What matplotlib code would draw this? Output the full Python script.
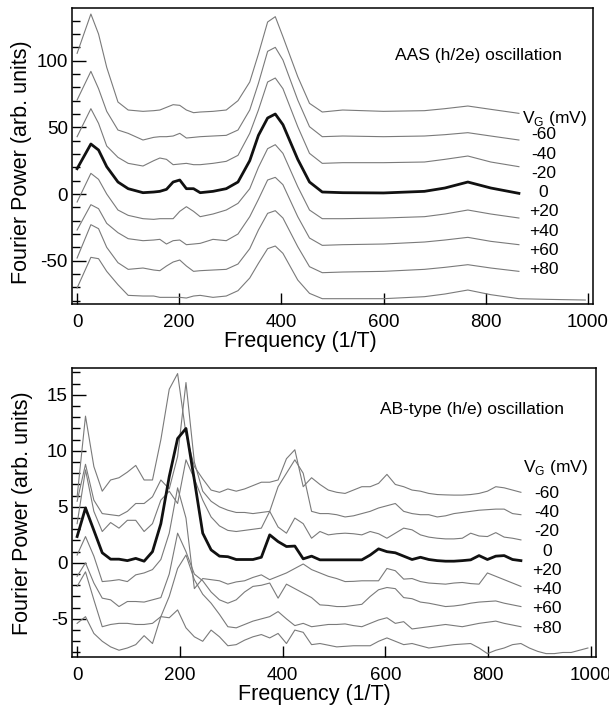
import matplotlib
matplotlib.use("Agg")
import matplotlib.pyplot as plt
from matplotlib.ticker import MultipleLocator

plt.rcParams["font.family"] = ["Liberation Sans", "DejaVu Sans"]
plt.rcParams["axes.unicode_minus"] = False
plt.rcParams["mathtext.fontset"] = "custom"
plt.rcParams["mathtext.rm"] = "Liberation Sans"

VG_LABELS = ["-60", "-40", "-20", "0", "+20", "+40", "+60", "+80"]

# Top panel: AAS (h/2e) oscillation
AAS_FREQ = [0, 27, 42, 58, 80, 100, 129, 150, 162, 175, 188, 201, 214, 228,
            241, 266, 292, 315, 338, 355, 373, 388, 403, 432, 455, 480, 520,
            600, 680, 720, 765, 810, 865]
AAS_M60 = [105.5, 135, 120, 95, 69, 63, 62, 62.5, 63, 65, 67, 66.5, 63, 61,
           61.5, 62, 63, 70, 84, 105, 129, 133, 118, 88, 68, 61.5, 63, 62,
           62.5, 64, 66, 63.5, 60.5]
AAS_M40 = [70.5, 92, 79, 62, 48, 45.5, 40.5, 42.5, 43, 43, 43.5, 45.5, 42,
           42.5, 43, 43.5, 44, 48, 63, 83, 107, 110, 100.5, 70.5, 50.5, 43,
           43.5, 43, 43.5, 44.5, 46, 43.5, 40.5]
AAS_M20 = [43, 64, 53, 36, 27.5, 23, 21, 25, 27, 26, 22, 22.5, 23, 22, 22,
           23, 24.5, 29, 45.5, 63, 84, 87, 79, 50.5, 30.5, 23, 23.5, 23.5,
           24, 26, 28.5, 24, 20.5]
AAS_0 = [19, 37.5, 33, 20.5, 9, 4, 1, 1.5, 2, 3.5, 9, 10.5, 4, 4, 1, 2, 4,
         9, 25, 44, 57, 60, 52, 26, 9, 1.5, 1, 0.8, 2, 4.5, 9, 4.5, 0.5]
AAS_P20 = [-6, 15.5, 11, 0, -12, -16, -18.5, -19, -18.5, -18.5, -18.5, -13,
           -9.5, -13, -17, -15, -12, -7, 4, 20, 34, 37, 30.5, 5.5, -12,
           -18.5, -18.5, -18, -17, -15, -12, -15, -18]
AAS_P40 = [-27, -8, -11, -22, -29, -33.5, -35, -34.5, -34, -37.5, -35, -34.5,
           -38, -37.5, -37, -34, -35, -30, -17, -4, 10.5, 12.5, 7, -17, -33,
           -38.5, -38, -37.5, -36, -34.5, -32.5, -35.5, -38]
AAS_P60 = [-48, -23, -26, -40, -51.5, -56.5, -55.5, -57, -57.5, -54, -51,
           -49.5, -54, -58, -57.5, -57, -56.5, -52.5, -41, -27, -14.5, -12.5,
           -18, -39.5, -54.5, -59, -58.5, -58, -56.5, -55, -53, -55.5, -58]
AAS_P80 = [-70.5, -47.5, -48.5, -58, -68, -76, -76.5, -76.5, -77.5, -77.5,
           -77.5, -77.5, -78, -76.5, -76, -77.5, -76.5, -72.5, -63, -52, -41,
           -39, -44.5, -64.5, -74.5, -78.5, -78.5, -78.5, -77, -75, -72,
           -75.5, -78.5, -79, -79.5]
AAS_P80_FREQ = AAS_FREQ + [920, 995]

# Bottom panel: AB-type (h/e) oscillation
AB_FREQ = [0, 16.3, 32.6, 48.9, 65.2, 81.5, 97.8, 114.1, 130.4, 146.7, 163.0,
           179.3, 195.6, 211.9, 228.2, 244.5, 260.8, 277.1, 293.4, 309.7,
           326.0, 342.3, 358.6, 374.9, 391.2, 407.5, 423.8, 440.1, 456.4,
           472.7, 489.0, 505.3, 521.6, 537.9, 554.2, 570.5, 586.8, 603.1,
           619.4, 635.7, 652.0, 668.3, 684.6, 700.9, 717.2, 733.5, 749.8,
           766.1, 782.4, 798.7, 815.0, 831.3, 847.6, 863.9]
AB_P80_FREQ = AB_FREQ + [880.2, 896.5, 912.8, 929.1, 945.4, 961.7, 978.0,
                         994.3]
AB_M60 = [5.9, 13.1, 8.6, 6.4, 7.4, 7.6, 8.1, 8.7, 7.4, 7.4, 11.0, 15.5, 16.9,
          11.5, 8.6, 7.5, 6.5, 6.3, 6.6, 6.4, 6.6, 6.9, 7.2, 7.2, 7.4, 9.3,
          10.1, 6.8, 7.6, 7.0, 6.5, 6.3, 6.2, 6.5, 6.8, 6.8, 7.1, 7.9, 7.0,
          6.8, 6.5, 6.4, 6.2, 6.1, 6.07, 6.05, 6.05, 6.1, 6.2, 6.4, 6.8, 6.7,
          6.5, 6.3]
AB_M40 = [5.5, 8.8, 5.6, 4.4, 4.3, 4.2, 4.6, 5.3, 5.3, 5.9, 7.4, 6.6, 9.5,
          16.1, 9.0, 6.4, 5.5, 5.0, 4.7, 4.5, 4.5, 4.4, 4.5, 4.6, 6.8, 8.0,
          9.2, 8.0, 4.6, 4.4, 4.4, 4.3, 4.1, 4.2, 4.4, 4.6, 4.9, 5.1, 5.3,
          4.6, 4.4, 4.3, 4.3, 4.1, 4.2, 4.4, 4.5, 4.6, 4.7, 4.75, 4.8, 4.8,
          4.4, 4.3]
AB_M20 = [3.5, 8.3, 4.6, 2.8, 3.6, 3.1, 3.8, 3.8, 2.8, 3.5, 5.6, 6.4, 5.3,
          9.2, 7.5, 5.6, 4.1, 3.3, 2.9, 2.8, 2.9, 3.0, 3.1, 4.6, 3.2, 2.65,
          4.0, 3.5, 2.2, 2.8, 2.5, 2.6, 2.65, 2.6, 2.5, 2.8, 2.6, 2.2, 2.65,
          3.1, 2.95, 2.5, 2.3, 2.2, 2.14, 2.14, 2.2, 2.65, 2.4, 2.35, 2.7,
          2.3, 2.2, 2.05]
AB_0 = [2.35, 4.9, 2.9, 0.9, 0.33, 0.33, 0.2, 0.4, 0.15, 1.0, 3.5, 7.7, 11.1,
        12.0, 7.4, 2.65, 1.16, 0.6, 0.55, 0.3, 0.3, 0.3, 0.5, 2.5, 1.9, 1.46,
        1.5, 0.36, 0.6, 0.27, 0.27, 0.27, 0.27, 0.27, 0.27, 0.7, 1.25, 1.0,
        0.9, 0.6, 0.3, 0.5, 0.3, 0.2, 0.15, 0.15, 0.2, 0.27, 0.65, 0.3, 0.6,
        0.65, 0.3, 0.2]
AB_P20 = [0.7, 2.35, 0.6, -1.67, -1.6, -1.5, -1.67, -1.07, -0.9, -0.6, 0.3,
          2.65, 6.7, 4.0, -2.3, -1.4, -1.5, -1.6, -1.9, -1.7, -1.6, -1.3,
          -1.07, -1.5, -1.2, -0.9, -0.5, -0.1, -0.6, -0.9, -1.2, -1.4, -1.67,
          -1.65, -1.6, -1.6, -1.6, -0.5, -0.7, -1.45, -1.4, -1.67, -1.8,
          -1.85, -1.9, -1.8, -1.75, -1.85, -1.9, -0.9, -1.2, -1.5, -1.8, -2.1]
AB_P40 = [-1.2, 0.0, -1.8, -3.15, -3.3, -3.9, -3.45, -3.45, -3.5, -3.3, -3.1,
          -1.0, 2.65, 1.0, -1.0, -1.6, -2.6, -3.3, -3.6, -3.3, -2.6, -2.1,
          -2.0, -1.8, -3.15, -1.9, -2.3, -2.7, -3.1, -3.75, -3.8, -3.9, -3.9,
          -3.8, -3.7, -3.0, -2.4, -2.2, -2.3, -3.1, -3.2, -3.5, -3.6, -3.75,
          -3.9, -3.85, -3.75, -3.6, -3.5, -3.45, -3.4, -3.6, -3.75, -3.9]
AB_P60 = [-2.1, -0.8, -3.3, -5.7, -5.5, -5.4, -5.4, -5.5, -5.5, -5.4, -4.8,
          -3.0, -0.5, 0.7, -1.5, -2.8, -3.6, -4.6, -5.7, -5.8, -5.5, -5.2,
          -5.0, -4.8, -4.35, -5.0, -5.6, -5.4, -5.7, -5.6, -5.5, -5.5, -5.45,
          -5.6, -5.7, -5.4, -5.1, -4.9, -5.4, -5.25, -5.9, -5.8, -5.7, -5.6,
          -5.5, -5.6, -5.7, -5.55, -5.4, -5.3, -5.2, -5.4, -5.55, -5.7]
AB_P80 = [-5.4, -4.8, -6.3, -7.0, -7.5, -7.8, -7.6, -7.3, -6.5, -7.2, -4.8,
          -4.9, -4.2, -5.8, -6.6, -7.0, -6.0, -6.6, -7.4, -7.3, -6.9, -6.6,
          -6.4, -6.7, -6.3, -7.2, -6.0, -6.2, -7.3, -7.2, -7.35, -7.5, -7.45,
          -7.4, -7.4, -7.4, -7.0, -6.7, -7.0, -7.3, -7.2, -7.4, -7.6, -7.5,
          -7.4, -7.3, -7.25, -7.2, -7.6, -8.1, -7.8, -7.6, -7.3, -7.2, -7.6,
          -7.9, -8.1, -8.1, -8.0, -8.0, -7.8, -7.6]

GRAY = "#7a7a7a"
FS_TICK = 13.5
FS_LABEL = 15.5


def _style_axes(ax, ylim, ymajor, yminor):
    ax.set_xlim(-10, 1010)
    ax.set_ylim(*ylim)
    ax.xaxis.set_major_locator(MultipleLocator(200))
    ax.yaxis.set_major_locator(MultipleLocator(ymajor))
    ax.yaxis.set_minor_locator(MultipleLocator(yminor))
    ax.tick_params(axis="y", which="major", direction="in", length=10,
                   width=1.0, labelsize=FS_TICK, pad=3)
    ax.tick_params(axis="y", which="minor", direction="in", length=5.5,
                   width=1.0)
    ax.tick_params(axis="x", which="major", direction="in", length=8,
                   width=1.0, labelsize=FS_TICK, pad=7)
    ax.tick_params(axis="x", which="minor", bottom=False)
    for spine in ax.spines.values():
        spine.set_linewidth(1.1)
    ax.set_xlabel("Frequency (1/T)", fontsize=FS_LABEL, va="top")
    ax.set_ylabel("Fourier Power (arb. units)", fontsize=FS_LABEL)


def _vg_labels(ax, x_vg, x_lab, y_vg, y0, dy):
    ax.text(x_vg, y_vg, r"V$_\mathregular{G}$ (mV)", transform=ax.transAxes,
            ha="left", va="center", fontsize=12.5)
    for i, lab in enumerate(VG_LABELS):
        ax.text(x_lab, y0 - i * dy, lab, transform=ax.transAxes,
                ha="center", va="center", fontsize=12.5)


fig = plt.figure(figsize=(6.09, 7.09), dpi=100)
ax1 = fig.add_axes([0.1182, 0.5712, 0.8555, 0.4175])
ax2 = fig.add_axes([0.1182, 0.0734, 0.8604, 0.4076])

# Top panel
top_curves = [AAS_M60, AAS_M40, AAS_M20, AAS_0, AAS_P20, AAS_P40, AAS_P60]
for vals, lab in zip(top_curves, VG_LABELS):
    bold = lab == "0"
    ax1.plot(AAS_FREQ, vals, color="#111111" if bold else GRAY,
             lw=2.0 if bold else 0.8, solid_joinstyle="round")
ax1.plot(AAS_P80_FREQ, AAS_P80, color=GRAY, lw=0.8)
_style_axes(ax1, (-82.5, 139.5), 50, 10)
ax1.text(0.62, 0.841, "AAS (h/2e) oscillation", transform=ax1.transAxes,
         ha="left", va="center", fontsize=12.5)
_vg_labels(ax1, 0.864, 0.905, 0.628, 0.571, 0.0649)
ax1.xaxis.set_label_coords(0.4376, -0.092)
ax1.yaxis.set_label_coords(-0.077, 0.48)

# Bottom panel
bot_curves = [AB_M60, AB_M40, AB_M20, AB_0, AB_P20, AB_P40, AB_P60]
for vals, lab in zip(bot_curves, VG_LABELS):
    bold = lab == "0"
    ax2.plot(AB_FREQ, vals, color="#111111" if bold else GRAY,
             lw=2.0 if bold else 0.8, solid_joinstyle="round")
ax2.plot(AB_P80_FREQ, AB_P80, color=GRAY, lw=0.8)
_style_axes(ax2, (-8.4, 17.4), 5, 1)
ax2.text(0.588, 0.855, "AB-type (h/e) oscillation", transform=ax2.transAxes,
         ha="left", va="center", fontsize=12.5)
_vg_labels(ax2, 0.861, 0.906, 0.654, 0.567, 0.0668)
ax2.xaxis.set_label_coords(0.4626, -0.095)
ax2.yaxis.set_label_coords(-0.0744, 0.497)

fig.savefig("out.png", dpi=100)
